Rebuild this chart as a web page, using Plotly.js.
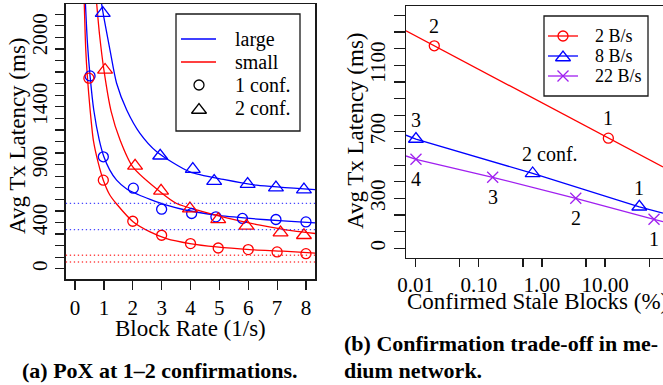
<!DOCTYPE html>
<html><head><meta charset="utf-8">
<script src="https://cdn.plot.ly/plotly-3.0.1.min.js"></script>
<style>html,body{margin:0;padding:0;overflow:hidden;background:#fff}</style>
</head><body><div id="chart" style="width:663px;height:385px"></div>
<script>
// ---------- (a) PoX at 1-2 confirmations ----------
const blockRateTicks = [0,1,2,3,4,5,6,7,8];
const latencyTicksA = [0,100,200,300,400,500,600,700,800,900,1000,1100,1200,1300,1400,1500,1600,1700,1800,1900,2000,2100,2200];
const latencyLabelsA = ['0','','','','400','','','','','900','','','','','1400','','','','','','2000','',''];

// measured points
const rateLarge1 = [0.52, 0.98, 2.02, 3.0, 4.04, 4.88, 5.8, 6.96, 8.0];
const latLarge1  = [1667, 968, 697, 515, 478, 449, 435, 426, 405];
const rateSmall1 = [0.48, 0.98, 2.0, 3.0, 4.0, 4.96, 6.0, 7.0, 8.0];
const latSmall1  = [1647, 766, 411, 290, 218, 180, 166, 146, 131];
const rateLarge2 = [0.96, 2.95, 4.08, 4.82, 5.98, 6.96, 7.93];
const latLarge2  = [2209, 977, 861, 758, 732, 702, 685];
const rateSmall2 = [1.04, 2.08, 2.98, 3.98, 4.96, 5.94, 7.12, 7.93];
const latSmall2  = [1718, 890, 674, 520, 428, 371, 313, 290];

// fitted curves
const fitRateLarge1 = [0.36, 0.43, 0.52, 0.65, 0.84, 1.0, 1.2, 1.44, 1.79, 2.2, 2.6, 3.17, 3.86, 4.9, 6.06, 7.21, 8.32];
const fitLatLarge1  = [2290, 1950, 1667, 1370, 1112, 968, 855, 766, 690, 640, 600, 550, 506, 463, 435, 414, 397];
const fitRateSmall1 = [0.32, 0.37, 0.43, 0.52, 0.634, 0.8, 0.98, 1.2, 1.44, 2.02, 2.6, 3.17, 3.98, 4.9, 6.06, 7.21, 8.32];
const fitLatSmall1  = [2290, 1900, 1650, 1380, 1112, 920, 766, 640, 560, 405, 319, 261, 218, 189, 166, 152, 135];
const fitRateLarge2 = [0.92, 1.0, 1.21, 1.44, 1.79, 2.25, 2.83, 3.98, 5.14, 6.29, 8.32];
const fitLatLarge2  = [2290, 2170, 1892, 1603, 1372, 1170, 1011, 837, 772, 723, 684];
const fitRateSmall2 = [0.75, 0.85, 1.0, 1.25, 1.56, 2.0, 3.0, 3.52, 4.33, 5.25, 6.41, 7.56, 8.32];
const fitLatSmall2  = [2290, 2020, 1718, 1360, 1112, 880, 655, 564, 500, 440, 377, 327, 305];

// dotted reference levels
const refLarge = [565, 339];
const refSmall = [117, 59];

// ---------- (b) Confirmation trade-off ----------
const staleTicks  = [0.01, 0.05, 0.1, 0.5, 1, 5, 10, 50];
const staleLabels = ['0.01','','0.10','','1.00','','10.00',''];
const latencyTicksB = [0,100,200,300,400,500,600,700,800,900,1000,1100,1200,1300,1400];
const latencyLabelsB = ['0','','','300','','','','700','','','','1100','','',''];

const stale2  = [0.0197, 11.3];
const lat2    = [1217, 662];
const conf2   = ['2', '1'];
const line2X  = [0.00702, 0.0197, 11.3, 83];
const line2Y  = [1307, 1217, 662, 489];

const stale8  = [0.0101, 0.714, 35];
const lat8    = [657, 450, 250];
const conf8   = ['3', '2 conf.', '1'];
const line8X  = [0.00702, 0.0101, 0.714, 35, 83];
const line8Y  = [680, 657, 450, 250, 212];

const stale22 = [0.0101, 0.166, 3.44, 59.8];
const lat22   = [535, 427, 301, 174.5];
const conf22  = ['4', '3', '2', '1'];
const line22X = [0.00702, 0.0101, 0.166, 3.44, 59.8, 83];
const line22Y = [555, 535, 427, 301, 174.5, 160];

// ---------- layout helpers ----------
const W = 663, H = 385;
const px = v => v / W, py = v => 1 - v / H;
const FONT = '"Liberation Serif", "DejaVu Serif", "Times New Roman", serif';
const BLUE = '#0000FF', RED = '#FF0000', PURPLE = '#A020F0', INK = '#1a1a1a';
const LW = 1.3;

const traces = [];
function curve(x, y, color) {
  traces.push({x, y, xaxis:'x', yaxis:'y', mode:'lines', showlegend:false, hoverinfo:'skip',
    line:{color, width:LW, shape:'spline', smoothing:0.7}});
}
function pts(x, y, color, symbol, size, xa, ya) {
  traces.push({x, y, xaxis:xa||'x', yaxis:ya||'y', mode:'markers', showlegend:false, hoverinfo:'skip', cliponaxis:false,
    marker:{symbol, size, color, line:{color, width:LW}}});
}
curve(fitRateLarge1, fitLatLarge1, BLUE);
curve(fitRateSmall1, fitLatSmall1, RED);
curve(fitRateLarge2, fitLatLarge2, BLUE);
curve(fitRateSmall2, fitLatSmall2, RED);
pts(rateLarge1, latLarge1, BLUE, 'circle-open', 10);
pts(rateSmall1, latSmall1, RED, 'circle-open', 10);
pts(rateLarge2, latLarge2, BLUE, 'triangle-up-open', 13);
pts(rateSmall2, latSmall2, RED, 'triangle-up-open', 13);

// right panel
function seriesB(lx, ly, x, y, color, symbol, size) {
  traces.push({x:lx, y:ly, xaxis:'x2', yaxis:'y2', mode:'lines', showlegend:false, hoverinfo:'skip',
    line:{color, width:LW}});
  pts(x, y, color, symbol, size, 'x2', 'y2');
}
seriesB(line2X, line2Y, stale2, lat2, RED, 'circle-open', 10);
seriesB(line8X, line8Y, stale8, lat8, BLUE, 'triangle-up-open', 13);
seriesB(line22X, line22Y, stale22, lat22, PURPLE, 'x-thin-open', 11);

// legend symbols on a pixel overlay axis
function legSym(xs, ys, color, mode, symbol, size) {
  traces.push({x:xs, y:ys, xaxis:'x3', yaxis:'y3', mode, showlegend:false, hoverinfo:'skip', cliponaxis:false,
    line:{color, width:LW}, marker:{symbol:symbol||'circle', size:size||1, color, line:{color, width:LW}}});
}
// left legend
legSym([181,216],[39,39], BLUE, 'lines');
legSym([181,216],[62,62], RED, 'lines');
legSym([199],[85], '#000', 'markers', 'circle-open', 10);
legSym([199],[110], '#000', 'markers', 'triangle-up-open', 13);
// right legend
legSym([548,578],[36,36], RED, 'lines');
legSym([563],[36], RED, 'markers', 'circle-open', 10);
legSym([548,578],[56,56], BLUE, 'lines');
legSym([563],[57.5], BLUE, 'markers', 'triangle-up-open', 13);
legSym([548,578],[76,76], PURPLE, 'lines');
legSym([563],[76], PURPLE, 'markers', 'x-thin-open', 11);

const ann = [];
function txt(text, x, y, size, opts) {
  ann.push(Object.assign({text, x:px(x), y:py(y), xref:'paper', yref:'paper', showarrow:false,
    font:{family:FONT, size, color:'#000'}, xanchor:'center', yanchor:'middle'}, opts||{}));
}
// axis titles
txt('Avg Tx Latency (ms)', 17, 136, 23, {textangle:-90});
txt('Block Rate (1/s)', 190.5, 328, 23);
txt('Avg Tx Latency (ms)', 355, 131, 23, {textangle:-90});
txt('Confirmed Stale Blocks (%)', 537, 301, 23);
// captions
txt('<b>(a) PoX at 1–2 confirmations.</b>', 20, 370, 22, {xanchor:'left'});
txt('<b>(b) Confirmation trade-off in me-</b>', 342, 343, 22, {xanchor:'left'});
txt('<b>dium network.</b>', 342, 370, 22, {xanchor:'left'});
// legend texts
txt('large', 233, 39, 20, {xanchor:'left'});
txt('small', 233, 62, 20, {xanchor:'left'});
txt('1 conf.', 233, 85, 20, {xanchor:'left'});
txt('2 conf.', 233, 108, 20, {xanchor:'left'});
txt('2 B/s', 593, 36, 18, {xanchor:'left'});
txt('8 B/s', 593, 56, 18, {xanchor:'left'});
txt('22 B/s', 593, 76, 18, {xanchor:'left'});

// point labels (right panel)
function lbl(xs, ys, labels, shift, dx) {
  xs.forEach((x, i) => {
    ann.push({text:labels[i], x:Math.log10(x), y:ys[i], xref:'x2', yref:'y2', showarrow:false,
      yshift:shift, xshift:(dx && dx[i]) || 0, font:{family:FONT, size:20, color:'#000'}});
  });
}
lbl(stale2, lat2, conf2, 20);
lbl(stale8, lat8, conf8, 19, [0, 17, 0]);
lbl(stale22, lat22, conf22, -20);

const shapes = [];
refLarge.forEach(v => shapes.push({type:'line', xref:'x domain', yref:'y', x0:0, x1:1, y0:v, y1:v,
  line:{color:'rgba(40,40,255,0.85)', width:1.3, dash:'1.3px,2.7px'}}));
refSmall.forEach(v => shapes.push({type:'line', xref:'x domain', yref:'y', x0:0, x1:1, y0:v, y1:v,
  line:{color:'rgba(255,40,40,0.85)', width:1.3, dash:'1.3px,2.7px'}}));
shapes.push({type:'rect', xref:'paper', yref:'paper', x0:px(176), x1:px(300), y0:py(131), y1:py(14),
  line:{color:INK, width:1.3}});
shapes.push({type:'rect', xref:'paper', yref:'paper', x0:px(544), x1:px(648), y0:py(96), y1:py(16),
  line:{color:INK, width:1.3}});

const axBase = {showgrid:false, zeroline:false, showline:true, linecolor:INK, linewidth:1.5,
  ticks:'outside', ticklen:9, tickwidth:1.2, tickcolor:INK, fixedrange:true,
  tickfont:{family:FONT, size:21, color:'#000'}};

const layout = {
  width:W, height:H, margin:{l:0, r:0, t:0, b:0}, showlegend:false,
  font:{family:FONT},
  paper_bgcolor:'#fff', plot_bgcolor:'rgba(0,0,0,0)',
  xaxis: Object.assign({}, axBase, {domain:[px(65.8), px(315.2)], range:[-0.32, 8.32],
    tickmode:'array', tickvals:blockRateTicks, ticktext:blockRateTicks.map(String), mirror:true, anchor:'y'}),
  yaxis: Object.assign({}, axBase, {domain:[py(279), py(4)], range:[-88, 2288],
    tickmode:'array', tickvals:latencyTicksA, ticktext:latencyLabelsA, tickangle:-90, mirror:true, anchor:'x'}),
  xaxis2: Object.assign({}, axBase, {type:'log', domain:[px(406), 1], range:[Math.log10(0.00702), Math.log10(83)],
    tickmode:'array', tickvals:staleTicks, ticktext:staleLabels, ticklen:8, mirror:true, anchor:'y2'}),
  yaxis2: Object.assign({}, axBase, {domain:[py(257.7), py(6)], range:[-56, 1456], ticklen:11,
    tickmode:'array', tickvals:latencyTicksB, ticktext:latencyLabelsB, tickangle:-90, anchor:'x2'}),
  xaxis3: {domain:[0,1], range:[0,W], visible:false, fixedrange:true, anchor:'y3'},
  yaxis3: {domain:[0,1], range:[H,0], visible:false, fixedrange:true, anchor:'x3'},
  annotations: ann, shapes
};
Plotly.newPlot('chart', traces, layout, {staticPlot:true, displayModeBar:false});
</script></body></html>
